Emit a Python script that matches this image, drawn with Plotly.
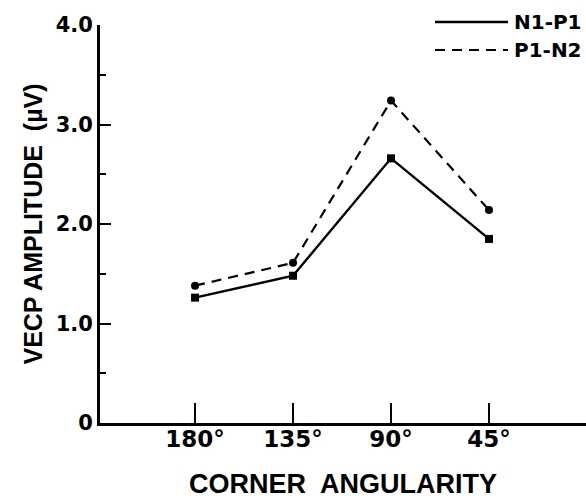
import plotly.graph_objects as go

categories = ["180°", "135°", "90°", "45°"]
n1_p1 = [1.26, 1.48, 2.66, 1.85]
p1_n2 = [1.38, 1.61, 3.24, 2.14]
y_tick_vals = [0, 1, 2, 3, 4]
y_tick_text = ["0", "1.0", "2.0", "3.0", "4.0"]

xpos = list(range(len(categories)))

fig = go.Figure()
fig.add_trace(go.Scatter(
    x=xpos, y=n1_p1, mode="lines+markers", name="N1-P1",
    line=dict(color="black", width=2.4),
    marker=dict(symbol="square", size=8, color="black"),
))
fig.add_trace(go.Scatter(
    x=xpos, y=p1_n2, mode="lines+markers", name="P1-N2",
    line=dict(color="black", width=2.2, dash="10px,7px"),
    marker=dict(symbol="circle", size=8, color="black"),
))

fam = "Liberation Sans, Arial"
heavy = "DejaVu Sans, Liberation Sans, Arial"

fig.update_layout(
    width=586, height=499,
    margin=dict(l=100, r=0, t=25, b=76),
    paper_bgcolor="white", plot_bgcolor="white",
    showlegend=False,
    font=dict(family=fam, color="black"),
    xaxis=dict(
        range=[-0.97, 3.99],
        tickmode="array", tickvals=xpos, ticktext=categories,
        ticks="inside", ticklen=20, tickwidth=1.5, tickcolor="black",
        showline=True, linecolor="black", linewidth=2.8,
        showgrid=False, zeroline=False,
        tickfont=dict(family=heavy, size=23, color="black", weight="bold"),
        ticklabelstandoff=-7,
        title=dict(text="CORNER  ANGULARITY", font=dict(size=27, weight="bold", color="black"), standoff=24),
    ),
    yaxis=dict(
        range=[0, 4],
        tickmode="array", tickvals=y_tick_vals, ticktext=y_tick_text,
        ticks="inside", ticklen=11, tickwidth=2, tickcolor="black",
        minor=dict(ticks="inside", ticklen=6, tickwidth=1.5, tickcolor="black", dtick=0.5, showgrid=False),
        showline=True, linecolor="black", linewidth=2.8,
        showgrid=False, zeroline=False,
        tickfont=dict(family=heavy, size=21, color="black", weight="bold"),
        ticklabelstandoff=0,
        title=dict(text="VECP AMPLITUDE  (µV)", font=dict(size=25, weight="bold", color="black"), standoff=6),
    ),
)

# legend drawn manually
fig.add_shape(type="line", xref="paper", yref="paper",
              x0=(435 - 100) / 486, x1=(508 - 100) / 486,
              y0=(423 - 22) / 398, y1=(423 - 22) / 398,
              line=dict(color="black", width=2.4))
fig.add_shape(type="line", xref="paper", yref="paper",
              x0=(435 - 100) / 486, x1=(508 - 100) / 486,
              y0=(423 - 50) / 398, y1=(423 - 50) / 398,
              line=dict(color="black", width=2.2, dash="10px,7px"))
fig.add_annotation(xref="paper", yref="paper", x=(512 - 100) / 486, y=(423 - 22) / 398,
                   text="N1-P1", showarrow=False, xanchor="left", yanchor="middle",
                   font=dict(family=heavy, size=20, color="black", weight="bold"))
fig.add_annotation(xref="paper", yref="paper", x=(512 - 100) / 486, y=(423 - 50) / 398,
                   text="P1-N2", showarrow=False, xanchor="left", yanchor="middle",
                   font=dict(family=heavy, size=20, color="black", weight="bold"))

fig.write_html("out.html")
